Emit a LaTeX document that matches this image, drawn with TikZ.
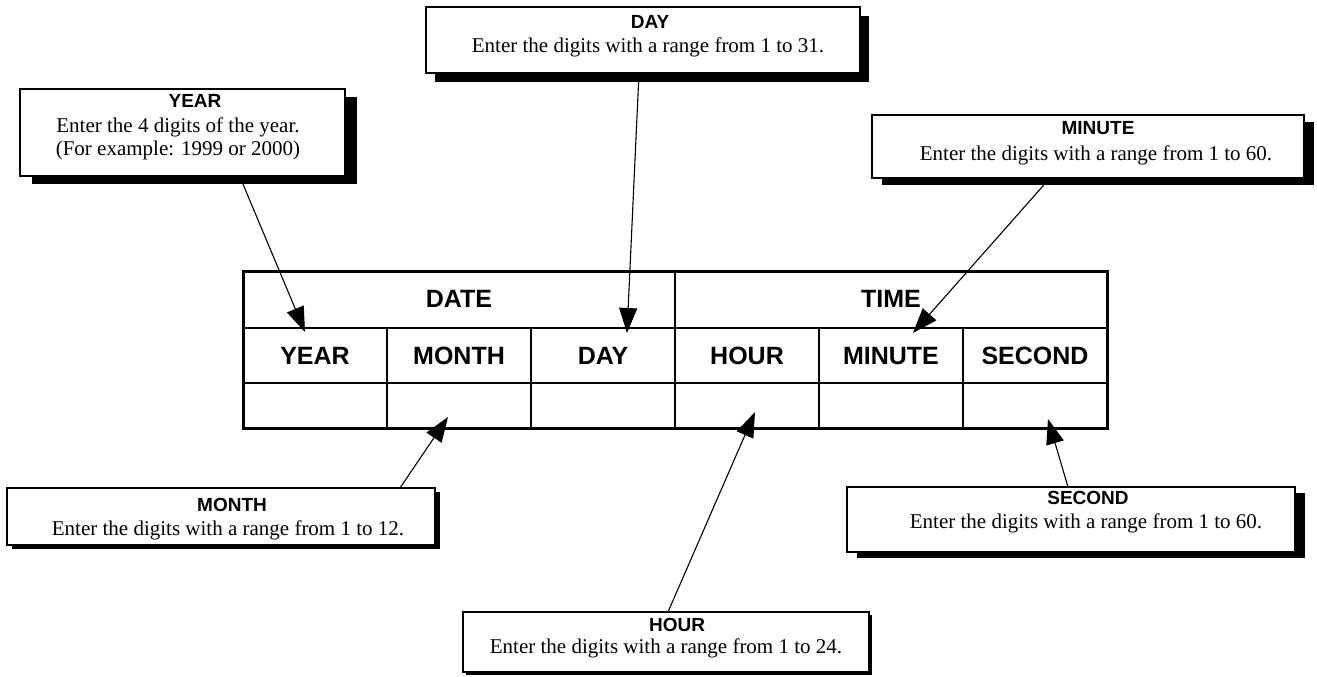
\documentclass[tikz,border=0pt]{standalone}
\usepackage{fontspec}
\setmainfont{Liberation Serif}
\setsansfont{Liberation Sans}
\usetikzlibrary{arrows.meta}
\begin{document}
\begin{tikzpicture}[x=1pt,y=-1pt,
  tlabel/.style={font=\fontsize{25}{28}\selectfont\sffamily\bfseries, inner sep=0pt},
  head/.style={font=\fontsize{19}{22}\selectfont\sffamily\bfseries, inner sep=0pt},
  body/.style={font=\fontsize{21}{24}\selectfont\rmfamily, inner sep=0pt},
  callout/.style={draw, line width=2pt, fill=white, inner sep=0pt},
  shadowbox/.style={fill=black, inner sep=0pt},
  pointer/.style={line width=1.1pt, -{Triangle[length=25pt,width=18pt]}},
  thin grid/.style={line width=2pt},
  outer grid/.style={line width=3pt}
]
\useasboundingbox (0,0) rectangle (1317,677);

% ---------- table ----------
\draw[thin grid] (243,328) -- (1107,328);
\draw[thin grid] (243,383) -- (1107,383);
\foreach \xx in {387,531,819,963} \draw[thin grid] (\xx,328) -- (\xx,428);
\draw[thin grid] (675,271) -- (675,428);
\draw[outer grid] (243,271) rectangle (1107,428);

\node[tlabel] (date)   at (459,299) {DATE};
\node[tlabel] (time)   at (891,299) {TIME};
\node[tlabel] (cyear)  at (315,356) {YEAR};
\node[tlabel] (cmonth) at (459,356) {MONTH};
\node[tlabel] (cday)   at (603,356) {DAY};
\node[tlabel] (chour)  at (747,356) {HOUR};
\node[tlabel] (cminute) at (891,356) {MINUTE};
\node[tlabel] (csecond) at (1035,356) {SECOND};

% ---------- callout boxes ----------
% YEAR
\node[shadowbox, minimum width=325pt, minimum height=87pt] (yearsh) at (194.5,140.5) {};
\node[callout, minimum width=325pt, minimum height=87pt] (yearbox) at (182.5,132.5) {};
\node[head] (yearh) at (195,101) {YEAR};
\node[body] (yearb1) at (178,127) {Enter the 4 digits of the year.};
\node[body] (yearb2) at (178,150) {(For example: 1999 or 2000)};

% DAY
\node[shadowbox, minimum width=434pt, minimum height=66pt] (daysh) at (652,49) {};
\node[callout, minimum width=434pt, minimum height=66pt] (daybox) at (643,40) {};
\node[head] (dayh) at (650,22) {DAY};
\node[body] (dayb) at (648,47) {Enter the digits with a range from 1 to 31.};

% MINUTE
\node[shadowbox, minimum width=432pt, minimum height=63pt] (minsh) at (1098,153.5) {};
\node[callout, minimum width=432pt, minimum height=63pt] (minbox) at (1088,146.5) {};
\node[head] (minh) at (1098,128) {MINUTE};
\node[body] (minb) at (1096,155) {Enter the digits with a range from 1 to 60.};

% SECOND
\node[shadowbox, minimum width=448pt, minimum height=65pt] (secsh) at (1081,525.5) {};
\node[callout, minimum width=448pt, minimum height=65pt] (secbox) at (1071,519.5) {};
\node[head] (sech) at (1088,498) {SECOND};
\node[body] (secb) at (1086,523) {Enter the digits with a range from 1 to 60.};

% MONTH
\node[shadowbox, minimum width=428pt, minimum height=57pt] (monsh) at (226,520.5) {};
\node[callout, minimum width=428pt, minimum height=57pt] (monbox) at (221,516.5) {};
\node[head] (monh) at (232,505) {MONTH};
\node[body] (monb) at (228,530) {Enter the digits with a range from 1 to 12.};

% HOUR
\node[shadowbox, minimum width=406pt, minimum height=60pt] (hoursh) at (669,645) {};
\node[callout, minimum width=406pt, minimum height=60pt] (hourbox) at (666,642) {};
\node[head] (hourh) at (677,625) {HOUR};
\node[body] (hourb) at (666,648) {Enter the digits with a range from 1 to 24.};

% ---------- pointers ----------
\coordinate (yearS) at (240,177);  \coordinate (yearT) at (305,332);
\coordinate (dayS) at (639,73);    \coordinate (dayT) at (627,333);
\coordinate (minS) at (1050,178);  \coordinate (minT) at (913,333);
\coordinate (monS) at (400,488);   \coordinate (monT) at (448,417);
\coordinate (hourS) at (668,612);  \coordinate (hourT) at (755,412);
\coordinate (secS) at (1068,487);  \coordinate (secT) at (1048,419);

\draw[pointer] (yearS) -- (yearT);
\draw[pointer] (dayS) -- (dayT);
\draw[pointer] (minS) -- (minT);
\draw[pointer] (monS) -- (monT);
\draw[pointer] (hourS) -- (hourT);
\draw[pointer] (secS) -- (secT);
\end{tikzpicture}
\end{document}
